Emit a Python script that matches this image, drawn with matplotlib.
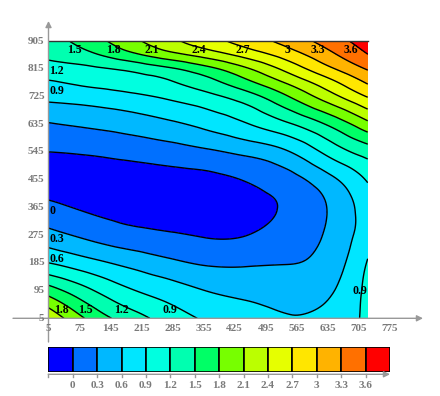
import numpy as np
import matplotlib.pyplot as plt
import matplotlib.tri as mtri
from matplotlib.colors import ListedColormap, BoundaryNorm

# ---------------- data ----------------
x_vals = [5, 95, 185, 275, 365, 455, 545, 635, 725]
y_vals = [5, 95, 185, 275, 365, 455, 545, 635, 725, 770, 815, 860, 905]
# one list per x column, values bottom -> top
z_cols = [
    [2.35, 1.65, 0.90, 0.40, 0.06, -0.09, 0.00, 0.28, 0.69, 0.87, 1.07, 1.26, 1.35],
    [1.75, 1.25, 0.70, 0.23, -0.04, -0.11, 0.03, 0.35, 0.75, 0.95, 1.14, 1.43, 1.64],
    [1.36, 0.94, 0.52, 0.10, -0.10, -0.12, 0.09, 0.43, 0.83, 1.03, 1.26, 1.70, 1.99],
    [1.07, 0.75, 0.37, 0.03, -0.11, -0.09, 0.16, 0.54, 0.95, 1.16, 1.45, 1.98, 2.31],
    [0.85, 0.59, 0.26, -0.02, -0.10, -0.06, 0.25, 0.69, 1.12, 1.39, 1.72, 2.23, 2.58],
    [0.72, 0.52, 0.26, 0.00, -0.07, 0.02, 0.38, 0.89, 1.38, 1.73, 2.08, 2.52, 2.84],
    [0.62, 0.47, 0.29, 0.13, 0.04, 0.18, 0.58, 1.16, 1.79, 2.14, 2.50, 2.84, 3.11],
    [0.70, 0.55, 0.42, 0.34, 0.31, 0.50, 0.98, 1.53, 2.26, 2.58, 2.93, 3.21, 3.42],
    [0.96, 0.98, 0.92, 0.78, 0.76, 0.93, 1.33, 2.01, 2.72, 3.03, 3.33, 3.59, 3.75],
]
levels = [0, 0.3, 0.6, 0.9, 1.2, 1.5, 1.8, 2.1, 2.4, 2.7, 3, 3.3, 3.6]
level_labels = ['0', '0.3', '0.6', '0.9', '1.2', '1.5', '1.8', '2.1', '2.4', '2.7', '3', '3.3', '3.6']
band_colors = ['#0000ff', '#0070ff', '#00b8ff', '#00e6ff', '#00ffe0', '#00ffb0', '#00ff66',
               '#77ff00', '#bbff00', '#e6ff00', '#ffe600', '#ffb300', '#ff7000', '#ff0000']
x_ticks = [5, 75, 145, 215, 285, 355, 425, 495, 565, 635, 705, 775]
y_ticks = [5, 95, 185, 275, 365, 455, 545, 635, 725, 815, 905]

AXIS_GRAY = '#999999'
TEXT_GRAY = '#7a7a7a'
plt.rcParams['font.family'] = ['Liberation Serif', 'DejaVu Serif']

W, H = 440, 396
fig = plt.figure(figsize=(W / 100, H / 100), dpi=100)

# plot area in pixels
L, R, T, B = 48.5, 367.7, 41.0, 318.3
ax = fig.add_axes([L / W, 1 - B / H, (R - L) / W, (B - T) / H])
x0, x1 = x_vals[0], x_vals[-1]
y0, y1 = y_vals[0], y_vals[-1]
ax.set_xlim(x0, x1)
ax.set_ylim(y0, y1)
ax.axis('off')

sx = (x1 - x0) / (R - L)   # data units per pixel
sy = (y1 - y0) / (B - T)


def dx(px):
    return x0 + (px - L) * sx


def dy(py):
    return y0 + (B - py) * sy


# grid -> triangulation, refined smoothly by matplotlib
X, Y = np.meshgrid(x_vals, y_vals)
Z = np.array(z_cols).T
nx, ny = len(x_vals), len(y_vals)
tris = []
for j in range(ny - 1):
    for i in range(nx - 1):
        a = j * nx + i
        tris.append([a, a + 1, a + nx + 1])
        tris.append([a, a + nx + 1, a + nx])
tri = mtri.Triangulation(X.ravel(), Y.ravel(), np.array(tris))
tri_r, z_r = mtri.UniformTriRefiner(tri).refine_field(Z.ravel(), subdiv=4)

fill_levels = [z_r.min() - 1] + levels + [z_r.max() + 1]
cmap = ListedColormap(band_colors)
norm = BoundaryNorm(fill_levels, cmap.N)
ax.tricontourf(tri_r, z_r, levels=fill_levels, cmap=cmap, norm=norm)
cs = ax.tricontour(tri_r, z_r, levels=levels, colors='black', linewidths=1.0)
ax.plot([x0, x1], [y1, y1], color='#333333', lw=1.0, clip_on=False)


def cross_x(s, target):
    # x where polyline s (starting at the edge) first passes height target
    d = s[:, 1] - target
    k = np.argmax(np.sign(d) != np.sign(d[0]))
    a, b = s[k - 1], s[k]
    t = (target - a[1]) / (b[1] - a[1])
    return a[0] + t * (b[0] - a[0])


# contour labels near the segment ends
placed = []
eps = 1.0
for lev_i, path in enumerate(cs.get_paths()):
    for seg in path.to_polygons(closed_only=False):
        if len(seg) < 4:
            continue
        ends = [seg[0], seg[-1]]
        on_top = [e for e in ends if e[1] >= y1 - eps]
        on_bot = [e for e in ends if e[1] <= y0 + eps]
        on_left = [e for e in ends if e[0] <= x0 + eps]
        on_right = [e for e in ends if e[0] >= x1 - eps]
        if on_top:
            target = y1 - 9 * sy
            s = seg if seg[0][1] >= seg[-1][1] else seg[::-1]
            pos, ha, va = (cross_x(s, target) - 4 * sx, target), 'right', 'center'
        elif on_bot and on_right:
            target = y0 + 27 * sy
            s = seg if seg[0][1] <= seg[-1][1] else seg[::-1]
            pos, ha, va = (cross_x(s, target) - 2 * sx, target), 'center', 'center'
        elif on_bot:
            target = y0 + 8 * sy
            s = seg if seg[0][1] <= seg[-1][1] else seg[::-1]
            pos, ha, va = (cross_x(s, target) - 5 * sx, target), 'right', 'center'
        elif on_left:
            e = min(on_left, key=lambda p: p[1])
            pos, ha, va = (x0 + 1 * sx, e[1] - 5 * sy), 'left', 'top'
        else:
            continue
        ppx = ((pos[0] - x0) / sx, (pos[1] - y0) / sy)
        if ha == 'right' and ppx[0] < 16:
            continue
        if any(abs(ppx[0] - q[0]) < 14 and abs(ppx[1] - q[1]) < 10 for q in placed):
            continue
        placed.append(ppx)
        ax.text(pos[0], pos[1], level_labels[lev_i], ha=ha, va=va, fontsize=8.5,
                fontweight='bold', color='black', clip_on=False, zorder=5)

# axis lines with arrows
arrow = dict(arrowstyle='-|>', color=AXIS_GRAY, lw=1.0, mutation_scale=9, shrinkA=0, shrinkB=0)
ax.annotate('', xy=(dx(423), y0), xytext=(dx(13), y0), arrowprops=arrow, annotation_clip=False)
ax.annotate('', xy=(x0, dy(21)), xytext=(x0, dy(342)), arrowprops=arrow, annotation_clip=False)

for t in x_ticks:
    ax.text(t, y0 - 10 * sy, str(t), ha='center', va='center', fontsize=8,
            fontweight='bold', color=TEXT_GRAY, clip_on=False)
for t in y_ticks:
    ax.text(x0 - 4 * sx, t, str(t), ha='right', va='center', fontsize=8,
            fontweight='bold', color=TEXT_GRAY, clip_on=False)

# legend strip
CL, CR, CT, CB = 48.3, 390.0, 346.7, 372.3
cax = fig.add_axes([CL / W, 1 - CB / H, (CR - CL) / W, (CB - CT) / H])
n = len(band_colors)
cax.bar(np.arange(n) + 0.5, 1, width=1, color=band_colors, edgecolor='black', linewidth=1.2)
cax.set_xlim(0, n)
cax.set_ylim(0, 1)
cax.axis('off')
cy = 1 / (CB - CT)
base = -2 * cy
cax.annotate('', xy=(n, base), xytext=(0, base), arrowprops=arrow, annotation_clip=False)
for k in range(len(levels) + 1):
    cax.plot([k, k], [base, base - 2.5 * cy], color=AXIS_GRAY, lw=1.0, clip_on=False)
for k, lab in enumerate(level_labels):
    cax.text(k + 1, -13.4 * cy, lab, ha='center', va='center', fontsize=8,
             fontweight='bold', color=TEXT_GRAY, clip_on=False)

fig.savefig('out.png', dpi=100)
